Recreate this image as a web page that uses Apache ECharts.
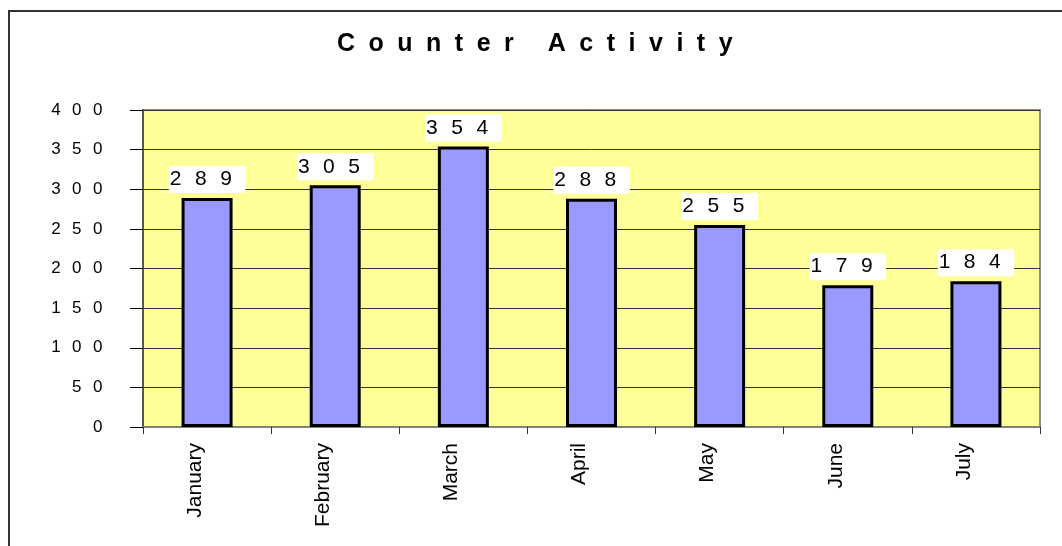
<!DOCTYPE html>
<html>
<head>
<meta charset="utf-8">
<script src="https://cdn.jsdelivr.net/npm/echarts@6/dist/echarts.min.js"></script>
<style>
  html, body { margin: 0; padding: 0; background: #fff; }
  #chart_example { width: 1062px; height: 546px; }
</style>
</head>
<body>
<div id="chart_example"></div>
<script>
var titleText = 'Counter Activity';
var months = ['January', 'February', 'March', 'April', 'May', 'June', 'July'];
var counts = [289, 305, 354, 288, 255, 179, 184];
var yMin = 0, yMax = 400, yStep = 50;

var FONT = 'Arial, "Liberation Sans", sans-serif';

// the old chart spaces every character out, so wrap each char in its own rich token
function spaced(str) {
  return String(str).split('').map(function (ch) { return '{c|' + ch + '}'; }).join('');
}

var myChart = echarts.init(document.getElementById('chart_example'));

var option = {
  backgroundColor: '#fff',
  animation: false,
  title: {
    text: spaced(titleText),
    left: 337,
    top: 30,
    padding: 0,
    textStyle: {
      rich: {
        c: { fontFamily: FONT, fontSize: 25, fontWeight: 'bold', color: '#000', lineHeight: 28, padding: [0, 13.5, 0, 0] }
      }
    }
  },
  grid: {
    left: 143,
    right: 22,
    top: 110,
    bottom: 119,
    show: true,
    backgroundColor: '#FFFF99',
    borderColor: '#8c8c8c',
    borderWidth: 2
  },
  xAxis: {
    type: 'category',
    data: months,
    axisLine: { lineStyle: { color: '#808080', width: 2 } },
    axisTick: { show: true, length: 7, lineStyle: { color: '#333' } },
    axisLabel: {
      rotate: 90,
      margin: 16,
      fontFamily: FONT,
      fontSize: 21,
      lineHeight: 24,
      verticalAlign: 'bottom',
      color: '#000'
    }
  },
  yAxis: {
    type: 'value',
    min: yMin,
    max: yMax,
    interval: yStep,
    axisLine: { show: true, lineStyle: { color: '#555', width: 2 } },
    axisTick: { show: true, length: 13, lineStyle: { color: '#000' } },
    splitLine: { show: true, lineStyle: { color: '#333', width: 1 } },
    axisLabel: {
      margin: 29,
      formatter: function (v) { return spaced(v); },
      rich: {
        c: { fontFamily: FONT, fontSize: 17, color: '#000', padding: [0, 11.5, 0, 0] }
      }
    }
  },
  series: [
    {
      name: 'Counter Activity',
      type: 'bar',
      data: counts,
      barWidth: 51,
      itemStyle: { color: '#9999FF', borderColor: '#000', borderWidth: 3 },
      label: {
        show: true,
        position: 'top',
        distance: 5,
        backgroundColor: '#fff',
        padding: [3, 0, 3, 1],
        formatter: function (p) { return spaced(p.value); },
        rich: {
          c: { fontFamily: FONT, fontSize: 21, color: '#000', lineHeight: 21, padding: [0, 13.5, 0, 0] }
        }
      }
    }
  ],
  graphic: [
    {
      type: 'rect',
      shape: { x: 9, y: 11, width: 1100, height: 600 },
      style: { fill: 'none', stroke: '#333', lineWidth: 2 },
      silent: true,
      z: -1
    }
  ]
};

myChart.setOption(option);
window.addEventListener('resize', function () { myChart.resize(); });
</script>
</body>
</html>
